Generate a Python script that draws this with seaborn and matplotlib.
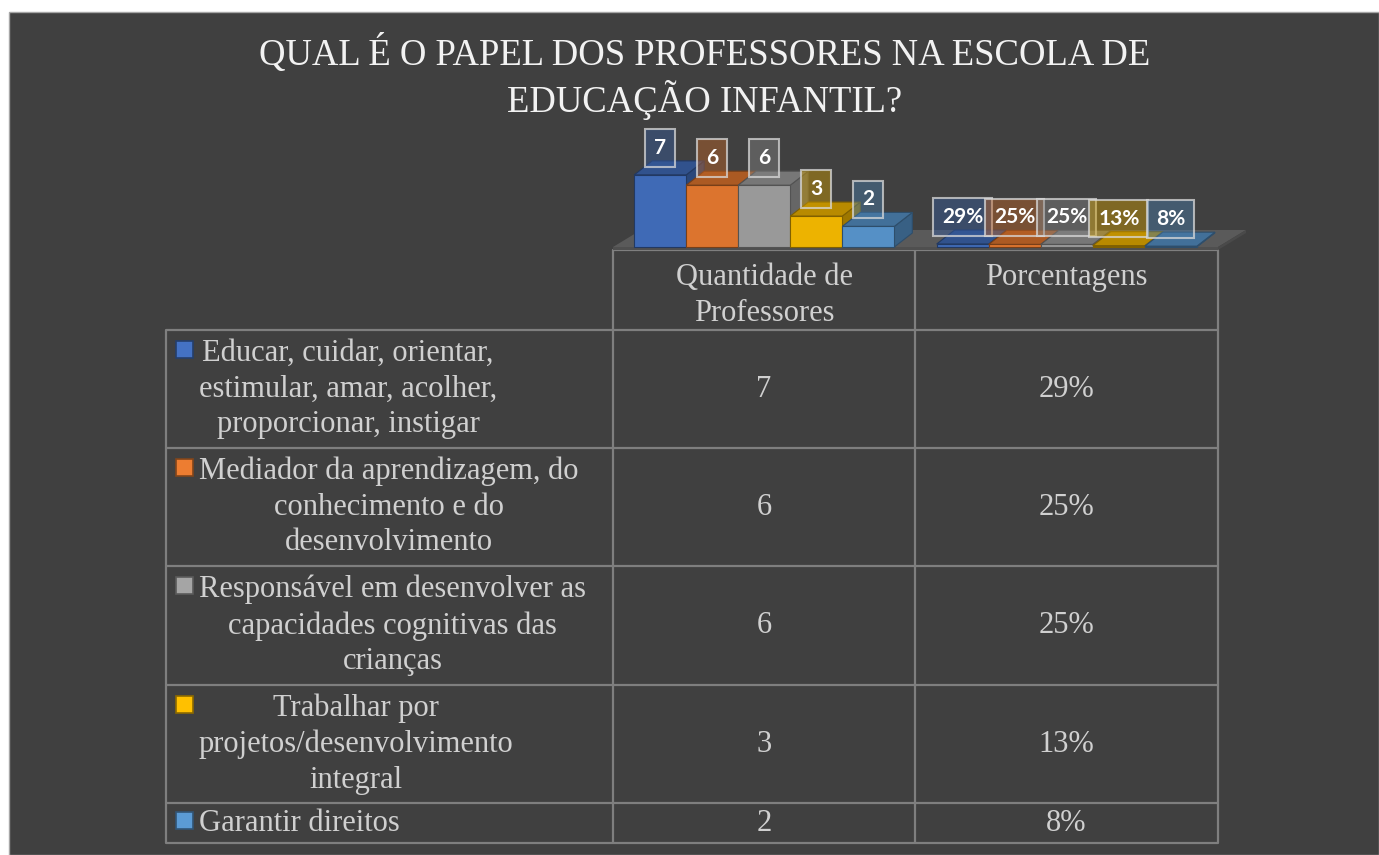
import numpy as np
import pandas as pd
import matplotlib
matplotlib.use("Agg")
import matplotlib.pyplot as plt
import matplotlib.colors as mcolors
from matplotlib.patches import Rectangle, Polygon
import seaborn as sns

# ── Data ───────────────────────────────────────────────────────
titulo = "QUAL É O PAPEL DOS PROFESSORES NA ESCOLA DE\nEDUCAÇÃO INFANTIL?"
categorias = [
    "Educar, cuidar, orientar,\nestimular, amar, acolher,\nproporcionar, instigar",
    "Mediador da aprendizagem, do\nconhecimento e do\ndesenvolvimento",
    "Responsável em desenvolver as\ncapacidades cognitivas das\ncrianças",
    "Trabalhar por\nprojetos/desenvolvimento\nintegral",
    "Garantir direitos",
]
series = ["Quantidade de\nProfessores", "Porcentagens"]
quantidades = [7, 6, 6, 3, 2]
porcentagens = [0.29, 0.25, 0.25, 0.13, 0.08]
cores = ["#4472C4", "#ED7D31", "#A5A5A5", "#FFC000", "#5B9BD5"]

df = pd.DataFrame({
    "serie": [series[0]] * len(categorias) + [series[1]] * len(categorias),
    "categoria": categorias * 2,
    "valor": quantidades + porcentagens,
})

# ── Layout (pixels) ────────────────────────────────────────────
W, H = 1379, 855
TAB_L = 166
COL_X = [613, 915, 1218]
HEAD_TOP = 250
ROW_Y = [330, 448, 566, 685, 803, 843]
PXY = 10.3            # pixels per unit of the column chart
BG = "#404040"
GRID = "#7f7f7f"
TXT = "#d0d0d0"
SERIF = ["Liberation Serif", "DejaVu Serif"]
LS = 1.3

sns.set_theme(style="white")
plt.rcParams["font.family"] = SERIF

fig = plt.figure(figsize=(W / 100, H / 100), dpi=100, facecolor="white")

# pixel canvas for background + data table
axp = fig.add_axes([0, 0, 1, 1])
axp.set_xlim(0, W)
axp.set_ylim(H, 0)
axp.set_axis_off()
axp.add_patch(Rectangle((9, 12), W - 9, H - 12, fc=BG, ec="#a6a6a6", lw=1))

fig.text(705 / W, 1 - 77 / H, titulo, ha="center", va="center",
         fontsize=26.4, color="#f2f2f2", family=SERIF, linespacing=1.2)

# ── Column chart ───────────────────────────────────────────────
ax = fig.add_axes([COL_X[0] / W, 1 - HEAD_TOP / H,
                   (COL_X[2] - COL_X[0]) / W, (HEAD_TOP - 120) / H])
ax.set_zorder(3)
ax.patch.set_alpha(0)
sns.barplot(data=df, x="serie", y="valor", hue="categoria", order=series,
            hue_order=categorias, palette=cores, width=0.86, saturation=1,
            errorbar=None, legend=False, ax=ax)
bars = sorted([p for p in ax.patches if isinstance(p, Rectangle)], key=lambda p: p.get_x())
ax.set_xlim(-0.5, 1.5)
ax.set_ylim(-3 / PXY, (HEAD_TOP - 3 - 120) / PXY)
ax.set_axis_off()

PXX = (COL_X[2] - COL_X[0]) / 2
BDX, BDY = 18 / PXX, 14 / PXY      # bar depth
FDX, FDY = 28 / PXX, 17 / PXY      # floor depth
slab = 3 / PXY

# floor
ax.add_patch(Polygon([(-0.5, 0), (1.5, 0), (1.5 + FDX, FDY), (-0.5 + FDX, FDY)],
                     closed=True, fc="#5a5a5a", ec="none", zorder=1, clip_on=False))
ax.add_patch(Rectangle((-0.5, -slab), 2, slab, fc="#4f4f4f", ec="none",
                       zorder=1, clip_on=False))
ax.add_patch(Polygon([(1.5, -slab), (1.5 + FDX, FDY - slab), (1.5 + FDX, FDY), (1.5, 0)],
                     closed=True, fc="#4a4a4a", ec="none", zorder=1, clip_on=False))


def escurecer(c, f=0.68):
    r, g, b = mcolors.to_rgb(c)
    return (r * f, g * f, b * f)


for i, p in enumerate(bars):
    x0, w, h = p.get_x(), p.get_width(), p.get_height()
    cor = p.get_facecolor()
    z = 2 + i * 0.1
    ax.add_patch(Polygon([(x0 + w, 0), (x0 + w + BDX, BDY), (x0 + w + BDX, h + BDY), (x0 + w, h)],
                         closed=True, fc=escurecer(cor, 0.62), ec=escurecer(cor, 0.5),
                         lw=0.8, zorder=z, clip_on=False))
    ax.add_patch(Polygon([(x0, h), (x0 + w, h), (x0 + w + BDX, h + BDY), (x0 + BDX, h + BDY)],
                         closed=True, fc=escurecer(cor, 0.72), ec=escurecer(cor, 0.5),
                         lw=0.8, zorder=z + 0.01, clip_on=False))
    p.set_facecolor(escurecer(cor, 0.93))
    p.set_zorder(z + 0.02)
    p.set_edgecolor(escurecer(cor, 0.5))
    p.set_linewidth(0.8)
    p.set_clip_on(False)

    rotulo = f"{h:.0f}" if x0 < 0.5 else f"{h:.0%}"
    r, g, b = mcolors.to_rgb(cor)
    ax.annotate(rotulo, xy=(x0 + w / 2, h), xytext=(0, 27 * 0.72),
                textcoords="offset points", ha="center", va="center",
                fontsize=15, fontweight="bold", color="white", family=["Lato", "DejaVu Sans"],
                bbox=dict(boxstyle="square,pad=0.42", fc=(r * 0.8, g * 0.8, b * 0.8, 0.45),
                          ec=(0.85, 0.85, 0.85, 0.75), lw=1.5),
                zorder=20, annotation_clip=False)

# ── Data table ─────────────────────────────────────────────────
for x in COL_X:
    axp.plot([x, x], [HEAD_TOP, ROW_Y[-1]], color=GRID, lw=1.6, solid_capstyle="butt")
axp.plot([TAB_L, TAB_L], [ROW_Y[0], ROW_Y[-1]], color=GRID, lw=1.6, solid_capstyle="butt")
axp.plot([COL_X[0], COL_X[-1]], [HEAD_TOP, HEAD_TOP], color=GRID, lw=1.6)
for y in ROW_Y:
    axp.plot([TAB_L, COL_X[-1]], [y, y], color=GRID, lw=1.6)

col_c = [(COL_X[0] + COL_X[1]) / 2, (COL_X[1] + COL_X[2]) / 2]
for xc, s in zip(col_c, series):
    axp.text(xc, 263, s, ha="center", va="top", fontsize=22, color=TXT,
             linespacing=LS, family=SERIF)

for i, cat in enumerate(categorias):
    yc = (ROW_Y[i] + ROW_Y[i + 1]) / 2
    n = cat.count("\n") + 1
    axp.text(199, yc, cat, ha="left", va="center", multialignment="center",
             fontsize=22, color=TXT, linespacing=LS, family=SERIF)
    yk = yc - (n - 1) / 2 * 37 - 3
    axp.add_patch(Rectangle((176, yk - 8.5), 17, 17, fc=cores[i],
                            ec=escurecer(cores[i], 0.55), lw=1.2))
    axp.text(col_c[0], yc, f"{quantidades[i]}", ha="center", va="center",
             fontsize=22, color=TXT, family=SERIF)
    axp.text(col_c[1], yc, f"{porcentagens[i]:.0%}", ha="center", va="center",
             fontsize=22, color=TXT, family=SERIF)

fig.savefig("out.png", dpi=100, facecolor=fig.get_facecolor())
